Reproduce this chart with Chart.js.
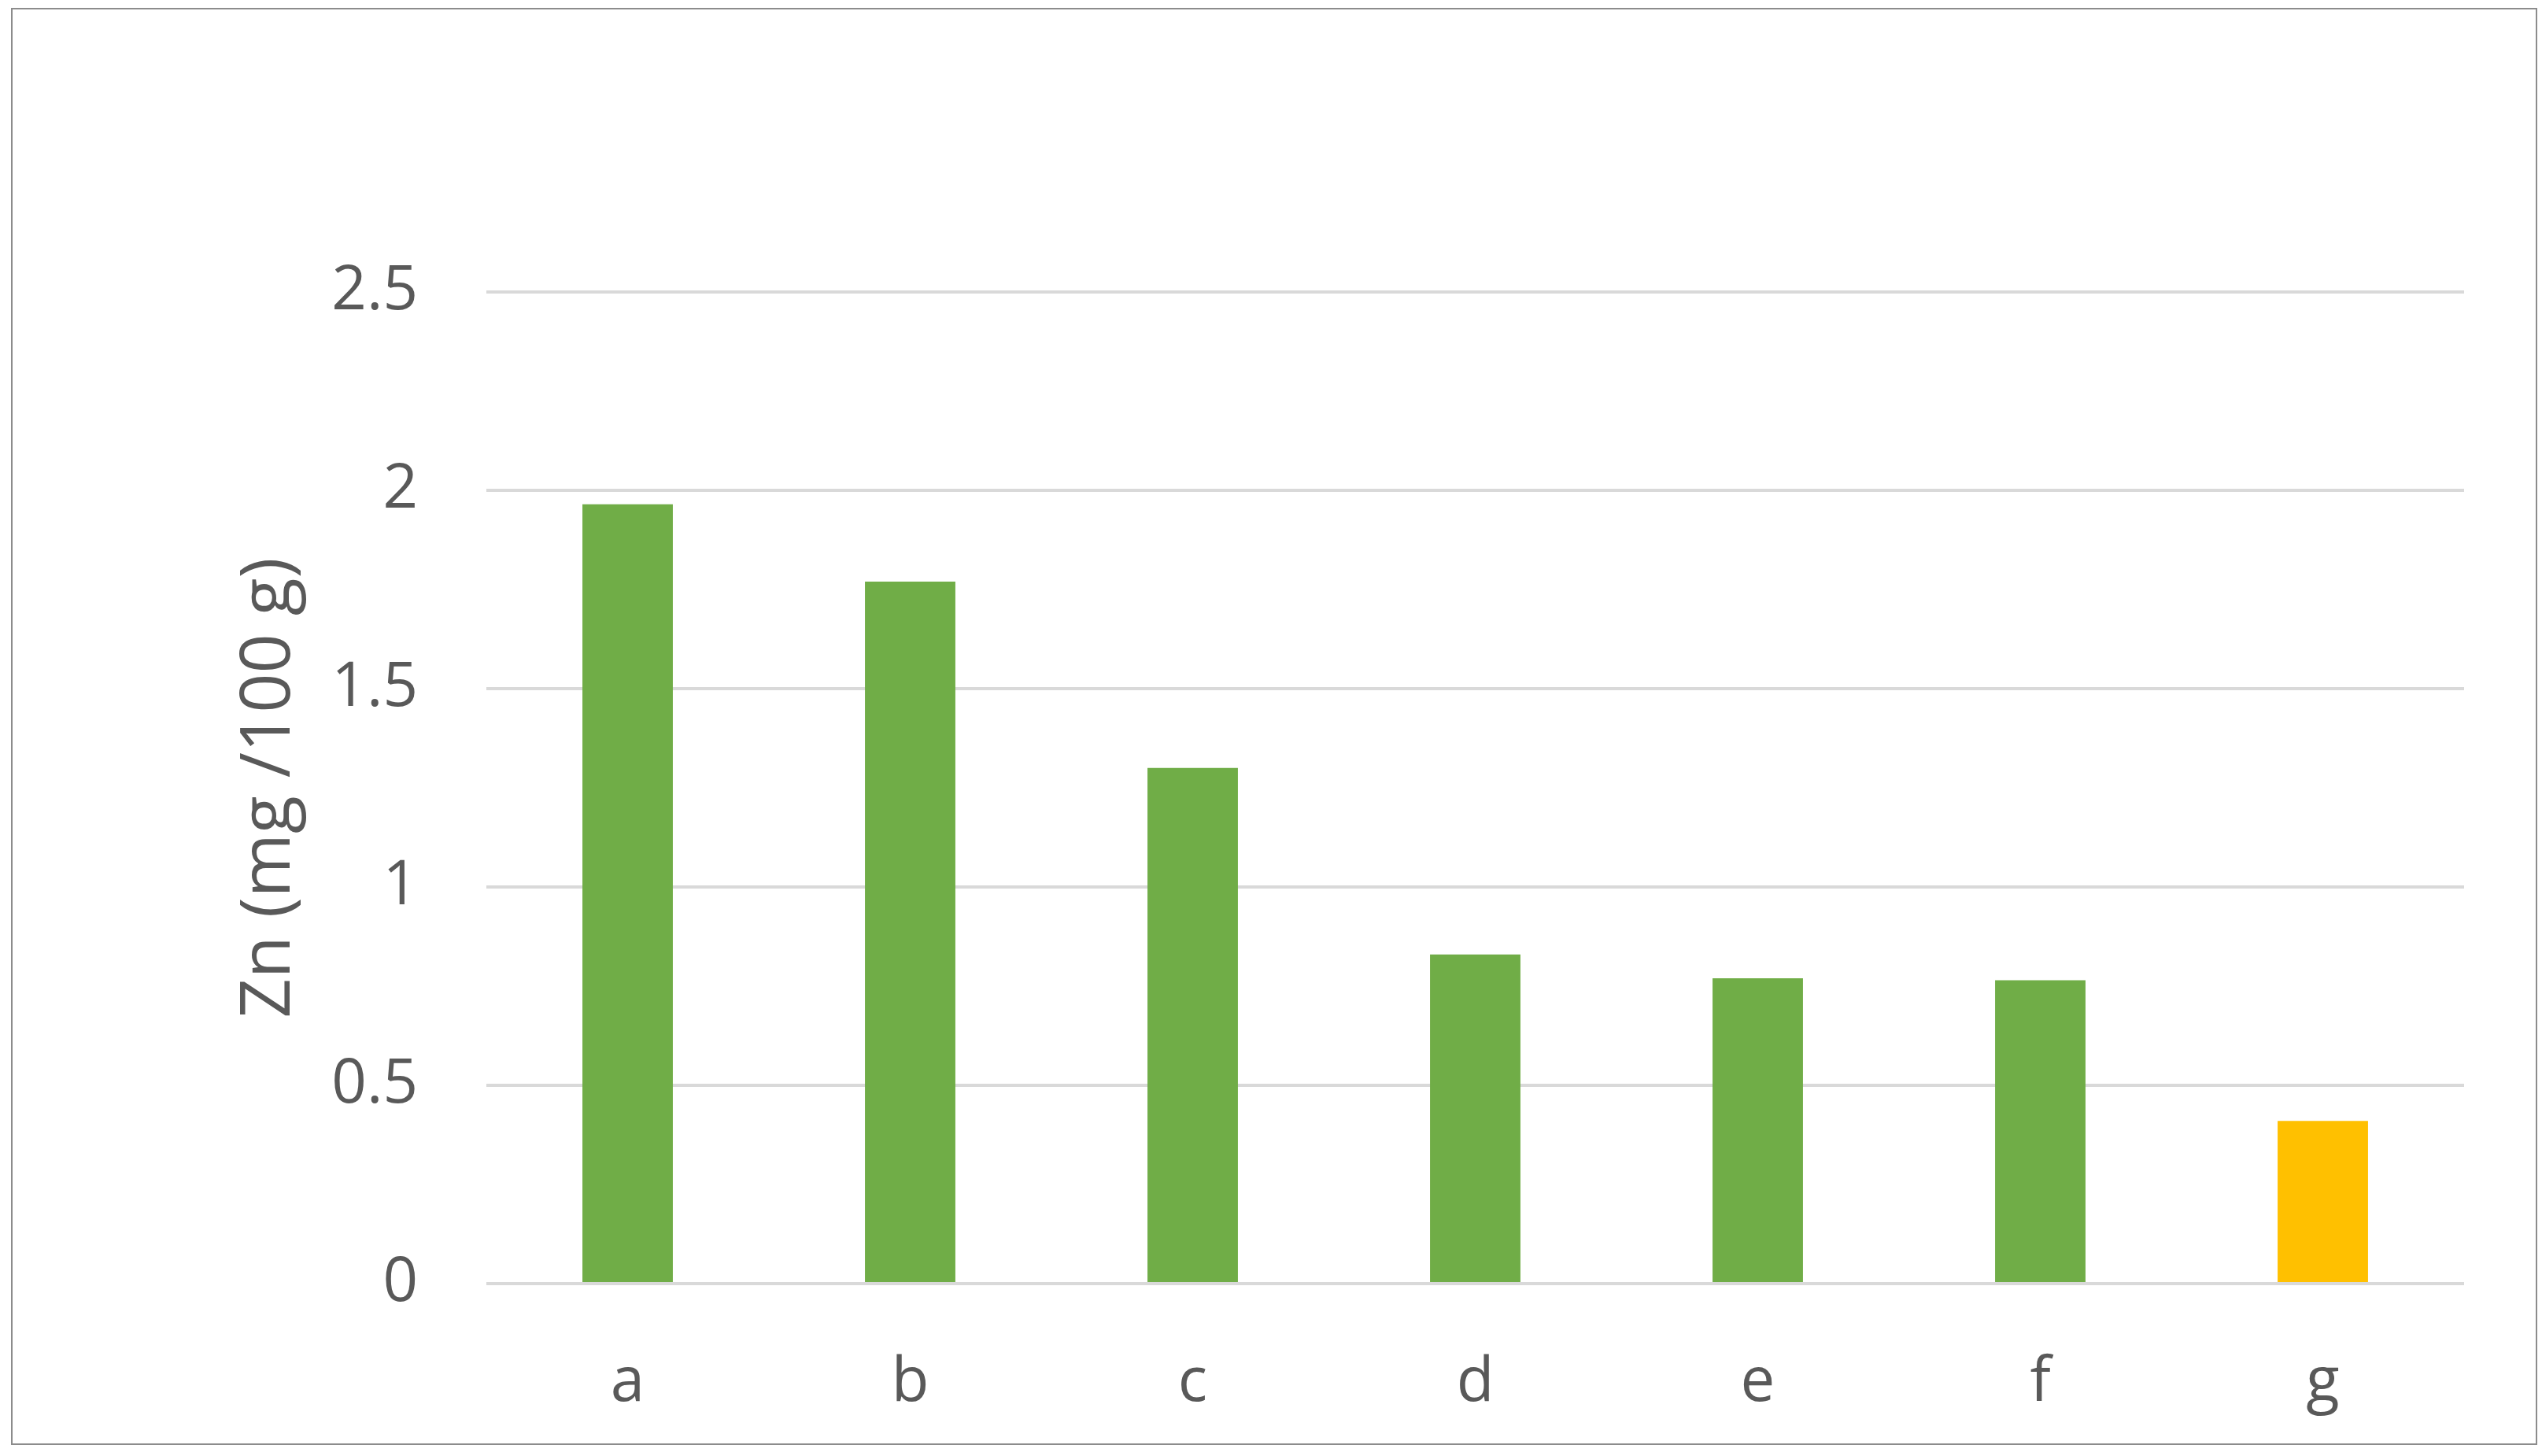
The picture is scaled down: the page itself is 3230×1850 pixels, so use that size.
<!DOCTYPE html>
<html>
<head>
<meta charset="utf-8">
<script src="https://cdn.jsdelivr.net/npm/chart.js@4.4.3/dist/chart.umd.min.js"></script>
<style>
  body { margin: 0; background: #fff; }
  #wrap { position: relative; width: 3230px; height: 1850px; }
  #frame { position: absolute; left: 14px; top: 10px; width: 3206px; height: 1822px; border: 2px solid #8c8c8c; }
  canvas { position: absolute; left: 0; top: 0; }
</style>
</head>
<body>
<div id="wrap">
  <div id="frame"></div>
  <canvas id="c" width="3230" height="1850"></canvas>
</div>
<script>
const categories = ["a", "b", "c", "d", "e", "f", "g"];
const values = [1.965, 1.77, 1.30, 0.83, 0.77, 0.765, 0.41];
const barColors = ["#70AD47", "#70AD47", "#70AD47", "#70AD47", "#70AD47", "#70AD47", "#FFC000"];
const yTicks = [0, 0.5, 1, 1.5, 2, 2.5];

const family = "'Open Sans', 'Noto Sans', sans-serif";
const font = { family, size: 78 };

new Chart(document.getElementById("c"), {
  type: "bar",
  data: {
    labels: categories,
    datasets: [{ data: values, backgroundColor: barColors, barPercentage: 0.32, categoryPercentage: 1 }],
  },
  options: {
    responsive: false,
    animation: false,
    layout: { padding: { top: 371, right: 99, bottom: 0, left: 0 } },
    plugins: { legend: { display: false }, tooltip: { enabled: false } },
    scales: {
      x: {
        grid: { display: false },
        border: { display: false },
        ticks: { color: "#595959", font, padding: 72 },
        afterFit: (s) => { s.height = 219; },
      },
      y: {
        min: 0,
        max: 2.5,
        afterBuildTicks: (s) => { s.ticks = yTicks.map((v) => ({ value: v })); },
        grid: { color: "#d9d9d9", lineWidth: 4, drawTicks: false },
        border: { display: false },
        ticks: { color: "#595959", font, padding: 87, callback: (v) => String(v) },
        title: { display: true, text: "Zn (mg /100 g)", color: "#595959", font: { family, size: 88 }, padding: { top: 290 } },
        afterFit: (s) => { s.width = 618; },
      },
    },
  },
});
</script>
</body>
</html>
